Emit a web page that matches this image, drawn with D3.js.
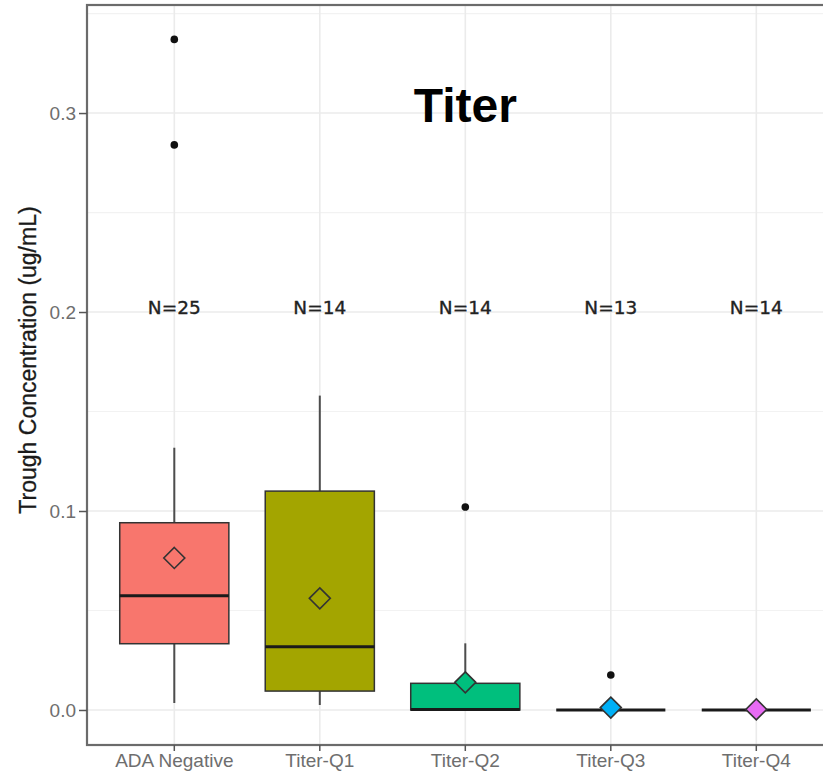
<!DOCTYPE html>
<html>
<head>
<meta charset="utf-8">
<script src="https://cdn.jsdelivr.net/npm/d3@7"></script>
<style>
  html, body { margin: 0; padding: 0; background: #fff; }
  svg { display: block; }
</style>
</head>
<body>
<svg id="chart" width="823" height="772"></svg>
<script>
// Trough concentration by ADA titer group
const categories = ["ADA Negative", "Titer-Q1", "Titer-Q2", "Titer-Q3", "Titer-Q4"];
const fills      = ["#F8766D", "#A3A500", "#00BF7D", "#00B0F6", "#E76BF3"];
const whiskerLo  = [0.0035, 0.0025, 0.0,    0.0,    0.0];
const q1         = [0.0333, 0.0095, 0.0,    0.0,    0.0];
const median     = [0.0574, 0.0318, 0.0003, 0.0,    0.0];
const q3         = [0.0941, 0.1100, 0.0134, 0.0,    0.0];
const whiskerHi  = [0.1318, 0.1580, 0.0335, 0.0,    0.0];
const means      = [0.0764, 0.0561, 0.0139, 0.0012, 0.0003];
const outliers   = [[0.337, 0.284], [], [0.102], [0.0176], []];
const counts     = [25, 14, 14, 13, 14];
const yTicks     = [0.0, 0.1, 0.2, 0.3];
const yMinor     = [0.05, 0.15, 0.25, 0.35];
const nLabelY    = 0.199;

const svg = d3.select("#chart");
const panel = { left: 87, top: 5, right: 843.6, bottom: 745 };

const x = d3.scaleBand()
  .domain(categories)
  .range([panel.left, panel.right])
  .paddingInner(0)
  .paddingOuter(0.1);
const cx = c => x(c) + x.bandwidth() / 2;
const boxW = x.step() * 0.75;

const y = d3.scaleLinear()
  .domain([-0.0176, 0.3543])
  .range([panel.bottom, panel.top]);

// grid
const grid = svg.append("g");
grid.selectAll(".minor").data(yMinor).join("line")
  .attr("x1", panel.left).attr("x2", panel.right)
  .attr("y1", d => y(d)).attr("y2", d => y(d))
  .attr("stroke", "#f2f2f2").attr("stroke-width", 1.2);
grid.selectAll(".major").data(yTicks).join("line")
  .attr("x1", panel.left).attr("x2", panel.right)
  .attr("y1", d => y(d)).attr("y2", d => y(d))
  .attr("stroke", "#ebebeb").attr("stroke-width", 1.6);
grid.selectAll(".vmajor").data(categories).join("line")
  .attr("x1", d => cx(d)).attr("x2", d => cx(d))
  .attr("y1", panel.top).attr("y2", panel.bottom)
  .attr("stroke", "#ebebeb").attr("stroke-width", 1.6);

// boxes
const rows = categories.map((c, i) => ({
  c, i, fill: fills[i], lo: whiskerLo[i], q1: q1[i], med: median[i],
  q3: q3[i], hi: whiskerHi[i], mean: means[i], out: outliers[i], n: counts[i]
}));

const g = svg.append("g");
const box = g.selectAll(".box").data(rows).join("g");

box.append("line")
  .attr("x1", d => cx(d.c)).attr("x2", d => cx(d.c))
  .attr("y1", d => y(d.q3)).attr("y2", d => y(d.hi))
  .attr("stroke", "#4d4d4d").attr("stroke-width", 2);
box.append("line")
  .attr("x1", d => cx(d.c)).attr("x2", d => cx(d.c))
  .attr("y1", d => y(d.q1)).attr("y2", d => y(d.lo))
  .attr("stroke", "#4d4d4d").attr("stroke-width", 2);

box.filter(d => d.q3 > d.q1).append("rect")
  .attr("x", d => cx(d.c) - boxW / 2)
  .attr("width", boxW)
  .attr("y", d => y(d.q3))
  .attr("height", d => y(d.q1) - y(d.q3))
  .attr("fill", d => d.fill)
  .attr("stroke", "#333")
  .attr("stroke-width", 1.5);

box.append("line")
  .attr("x1", d => cx(d.c) - boxW / 2).attr("x2", d => cx(d.c) + boxW / 2)
  .attr("y1", d => y(d.med)).attr("y2", d => y(d.med))
  .attr("stroke", "#1a1a1a").attr("stroke-width", 3);

// outliers
box.selectAll(".out").data(d => d.out.map(v => ({ c: d.c, v }))).join("circle")
  .attr("cx", d => cx(d.c)).attr("cy", d => y(d.v))
  .attr("r", 3.8).attr("fill", "#111");

// mean diamonds
const dm = 10.5;
box.append("path")
  .attr("d", d => {
    const px = cx(d.c), py = y(d.mean);
    return `M${px},${py - dm}L${px + dm},${py}L${px},${py + dm}L${px - dm},${py}Z`;
  })
  .attr("fill", d => d.fill)
  .attr("stroke", "#333")
  .attr("stroke-width", 1.6);

// N labels
svg.append("g").selectAll("text").data(rows).join("text")
  .attr("x", d => cx(d.c)).attr("y", y(nLabelY))
  .attr("text-anchor", "middle")
  .attr("font-family", "DejaVu Sans, sans-serif")
  .attr("font-size", 18.5)
  .attr("fill", "#222")
  .attr("stroke", "#222")
  .attr("stroke-width", 0.35)
  .text(d => "N=" + d.n);

// title
svg.append("text")
  .attr("x", cx("Titer-Q2")).attr("y", 122)
  .attr("text-anchor", "middle")
  .attr("font-family", "Liberation Sans, Arial, sans-serif")
  .attr("font-weight", "bold")
  .attr("font-size", 48)
  .attr("fill", "#000")
  .text("Titer");

// panel border
svg.append("rect")
  .attr("x", panel.left).attr("y", panel.top)
  .attr("width", panel.right - panel.left).attr("height", panel.bottom - panel.top)
  .attr("fill", "none").attr("stroke", "#6b6b6b").attr("stroke-width", 2.2);

// axes
const yAxis = svg.append("g")
  .attr("transform", `translate(${panel.left},0)`)
  .call(d3.axisLeft(y).tickValues(yTicks).tickFormat(d3.format(".1f")).tickSize(8).tickPadding(3));
yAxis.select(".domain").remove();
yAxis.selectAll(".tick line").attr("stroke", "#555").attr("stroke-width", 1.5);
yAxis.selectAll(".tick text")
  .attr("font-family", "Liberation Sans, Arial, sans-serif")
  .attr("font-size", 19).attr("fill", "#6e6e6e");

const xAxis = svg.append("g")
  .attr("transform", `translate(0,${panel.bottom})`)
  .call(d3.axisBottom(x).tickSize(6).tickPadding(3));
xAxis.select(".domain").remove();
xAxis.selectAll(".tick line").attr("stroke", "#555").attr("stroke-width", 1.5);
xAxis.selectAll(".tick text")
  .attr("font-family", "Liberation Sans, Arial, sans-serif")
  .attr("font-size", 19).attr("fill", "#6e6e6e");

// y axis title
svg.append("text")
  .attr("transform", "translate(36,360) rotate(-90)")
  .attr("text-anchor", "middle")
  .attr("font-family", "Liberation Sans, Arial, sans-serif")
  .attr("font-size", 23)
  .attr("fill", "#1a1a1a")
  .attr("stroke", "#1a1a1a")
  .attr("stroke-width", 0.3)
  .text("Trough Concentration (ug/mL)");
</script>
</body>
</html>
